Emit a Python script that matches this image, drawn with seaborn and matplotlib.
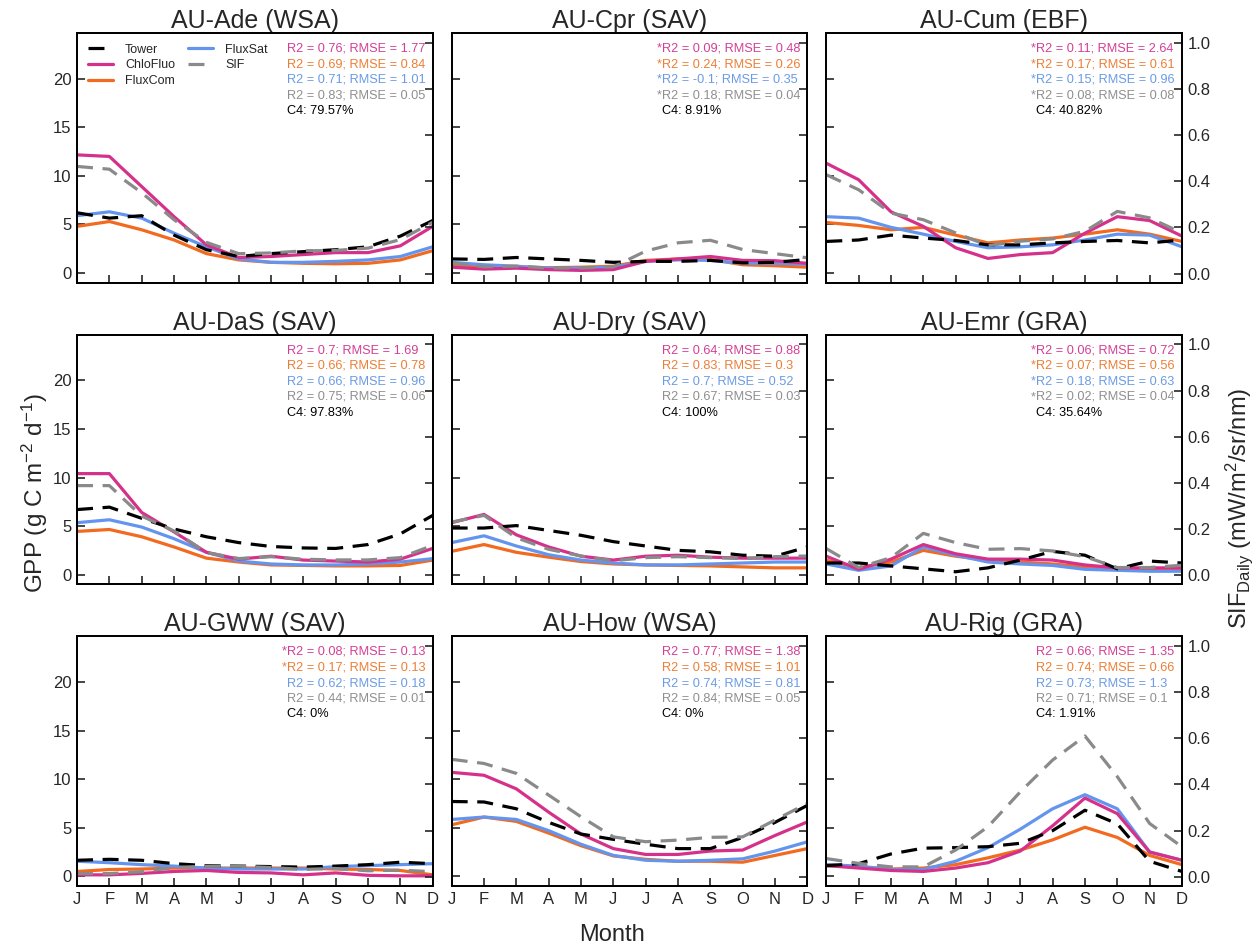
import numpy as np
import matplotlib
matplotlib.use("Agg")
import matplotlib.pyplot as plt
import seaborn as sns

sns.set_style("ticks")
plt.rcParams['font.family'] = ['Liberation Sans', 'DejaVu Sans']
plt.rcParams['mathtext.fontset'] = 'custom'
plt.rcParams['mathtext.rm'] = 'Liberation Sans'
plt.rcParams['mathtext.it'] = 'Liberation Sans'

# ---- data ----
MONTHS = ["J", "F", "M", "A", "M", "J", "J", "A", "S", "O", "N", "D"]
SITES = ["AU-Ade (WSA)", "AU-Cpr (SAV)", "AU-Cum (EBF)",
         "AU-DaS (SAV)", "AU-Dry (SAV)", "AU-Emr (GRA)",
         "AU-GWW (SAV)", "AU-How (WSA)", "AU-Rig (GRA)"]

TOWER = [
    [6.2, 5.65, 5.9, 3.9, 2.4, 1.7, 2.0, 2.2, 2.4, 2.7, 3.8, 5.4],
    [1.45, 1.4, 1.6, 1.45, 1.3, 1.1, 1.2, 1.2, 1.3, 1.05, 1.1, 1.4],
    [3.25, 3.4, 3.9, 3.6, 3.35, 2.9, 2.9, 3.1, 3.25, 3.35, 3.1, 3.4],
    [6.7, 6.95, 5.8, 4.7, 3.9, 3.3, 2.9, 2.75, 2.7, 3.1, 4.2, 6.1],
    [4.8, 4.8, 5.05, 4.55, 4.05, 3.4, 2.95, 2.5, 2.35, 2.0, 1.9, 2.85],
    [1.2, 1.2, 0.9, 0.6, 0.3, 0.7, 1.5, 2.4, 2.0, 0.6, 1.4, 1.2],
    [1.65, 1.75, 1.65, 1.3, 1.1, 1.05, 1.0, 0.95, 1.05, 1.2, 1.45, 1.3],
    [7.7, 7.65, 6.95, 5.55, 4.35, 3.8, 3.3, 2.85, 2.85, 4.0, 5.55, 7.3],
    [1.1, 1.3, 2.3, 2.9, 2.95, 3.05, 3.4, 4.7, 6.8, 5.4, 1.55, 0.5],
]
CHLOFLUO = [
    [12.16, 12.0, 8.9, 5.8, 2.9, 1.6, 1.7, 1.9, 2.1, 2.1, 2.8, 4.8],
    [0.6, 0.4, 0.5, 0.35, 0.27, 0.35, 1.2, 1.45, 1.7, 1.3, 1.27, 1.0],
    [11.3, 9.6, 6.3, 4.8, 2.6, 1.5, 1.9, 2.1, 4.1, 5.8, 5.4, 3.8],
    [10.4, 10.4, 6.4, 4.4, 2.3, 1.6, 1.9, 1.5, 1.4, 1.3, 1.6, 2.7],
    [5.35, 6.2, 4.1, 2.85, 1.9, 1.5, 1.9, 2.0, 1.8, 1.7, 1.7, 1.7],
    [1.9, 0.55, 1.6, 3.1, 2.15, 1.6, 1.6, 1.5, 1.0, 0.7, 0.7, 0.7],
    [0.15, 0.15, 0.3, 0.5, 0.6, 0.4, 0.35, 0.15, 0.35, 0.1, 0.05, 0.05],
    [10.7, 10.4, 9.0, 6.6, 4.35, 2.85, 2.25, 2.25, 2.6, 2.7, 4.2, 5.6],
    [1.1, 0.85, 0.6, 0.5, 0.85, 1.4, 2.6, 5.2, 8.05, 6.45, 2.5, 1.65],
]
FLUXCOM = [
    [4.8, 5.3, 4.45, 3.4, 2.0, 1.35, 1.1, 1.0, 0.95, 1.0, 1.35, 2.3],
    [0.85, 0.6, 0.6, 0.55, 0.6, 0.7, 1.3, 1.45, 1.4, 0.85, 0.75, 0.6],
    [5.2, 4.9, 4.45, 4.7, 3.9, 3.1, 3.4, 3.6, 4.0, 4.45, 4.0, 3.25],
    [4.45, 4.65, 3.9, 2.85, 1.7, 1.3, 1.0, 0.95, 0.9, 0.9, 0.95, 1.5],
    [2.4, 3.1, 2.3, 1.8, 1.35, 1.1, 1.0, 0.95, 0.9, 0.8, 0.7, 0.7],
    [1.5, 0.7, 1.3, 2.5, 1.9, 1.5, 1.3, 1.1, 0.8, 0.55, 0.55, 0.55],
    [0.5, 0.7, 0.75, 0.85, 0.85, 0.85, 0.85, 0.85, 0.75, 0.7, 0.6, 0.15],
    [5.3, 6.1, 5.65, 4.45, 3.15, 2.1, 1.75, 1.55, 1.55, 1.45, 2.15, 2.85],
    [1.1, 0.95, 0.75, 0.85, 1.2, 1.9, 2.7, 3.75, 5.05, 4.0, 2.15, 1.2],
]
FLUXSAT = [
    [5.9, 6.3, 5.65, 4.1, 2.7, 1.45, 1.1, 1.1, 1.2, 1.35, 1.7, 2.7],
    [1.1, 0.85, 0.7, 0.5, 0.5, 0.6, 1.2, 1.35, 1.3, 1.0, 1.0, 0.9],
    [5.8, 5.65, 4.7, 4.0, 3.25, 2.6, 2.7, 2.9, 3.4, 4.0, 3.9, 2.7],
    [5.35, 5.65, 4.9, 3.7, 2.3, 1.4, 1.1, 1.0, 1.0, 1.1, 1.3, 1.65],
    [3.3, 4.0, 2.95, 2.05, 1.5, 1.2, 1.0, 1.0, 1.1, 1.2, 1.3, 1.3],
    [1.1, 0.45, 0.9, 2.85, 2.0, 1.3, 1.1, 0.95, 0.55, 0.45, 0.35, 0.35],
    [1.55, 1.4, 1.2, 1.05, 0.85, 0.75, 0.75, 0.75, 1.0, 1.1, 1.2, 1.3],
    [5.85, 6.1, 5.85, 4.7, 3.3, 2.15, 1.65, 1.55, 1.65, 1.8, 2.6, 3.55],
    [1.2, 1.05, 0.7, 0.7, 1.55, 2.95, 4.85, 6.95, 8.4, 6.95, 2.5, 1.65],
]
SIF = [
    [0.464, 0.452, 0.35, 0.233, 0.135, 0.086, 0.089, 0.098, 0.10, 0.11, 0.147, 0.222],
    [0.046, 0.029, 0.032, 0.024, 0.024, 0.029, 0.097, 0.133, 0.144, 0.104, 0.086, 0.068],
    [0.428, 0.363, 0.262, 0.233, 0.176, 0.121, 0.14, 0.15, 0.183, 0.269, 0.241, 0.176],
    [0.388, 0.388, 0.256, 0.191, 0.098, 0.072, 0.08, 0.069, 0.066, 0.066, 0.076, 0.129],
    [0.23, 0.259, 0.162, 0.112, 0.083, 0.062, 0.076, 0.08, 0.076, 0.072, 0.08, 0.083],
    [0.115, 0.033, 0.076, 0.181, 0.141, 0.112, 0.115, 0.105, 0.08, 0.033, 0.033, 0.043],
    [0.014, 0.014, 0.022, 0.04, 0.046, 0.046, 0.04, 0.032, 0.036, 0.026, 0.029, 0.022],
    [0.509, 0.491, 0.448, 0.354, 0.26, 0.173, 0.152, 0.159, 0.171, 0.173, 0.246, 0.318],
    [0.079, 0.058, 0.043, 0.043, 0.116, 0.217, 0.368, 0.506, 0.61, 0.434, 0.231, 0.13],
]

# stats rows: ChloFluo, FluxCom, FluxSat, SIF
R2 = [
    ["0.76", "0.69", "0.71", "0.83"],
    ["0.09", "0.24", "-0.1", "0.18"],
    ["0.11", "0.17", "0.15", "0.08"],
    ["0.7", "0.66", "0.66", "0.75"],
    ["0.64", "0.83", "0.7", "0.67"],
    ["0.06", "0.07", "0.18", "0.02"],
    ["0.08", "0.17", "0.62", "0.44"],
    ["0.77", "0.58", "0.74", "0.84"],
    ["0.66", "0.74", "0.73", "0.71"],
]
RMSE = [
    ["1.77", "0.84", "1.01", "0.05"],
    ["0.48", "0.26", "0.35", "0.04"],
    ["2.64", "0.61", "0.96", "0.08"],
    ["1.69", "0.78", "0.96", "0.06"],
    ["0.88", "0.3", "0.52", "0.03"],
    ["0.72", "0.56", "0.63", "0.04"],
    ["0.13", "0.13", "0.18", "0.01"],
    ["1.38", "1.01", "0.81", "0.05"],
    ["1.35", "0.66", "1.3", "0.1"],
]
NOT_SIG = [
    [0, 0, 0, 0], [1, 1, 1, 1], [1, 1, 1, 1],
    [0, 0, 0, 0], [0, 0, 0, 0], [1, 1, 1, 1],
    [1, 1, 0, 0], [0, 0, 0, 0], [0, 0, 0, 0],
]
C4 = ["79.57%", "8.91%", "40.82%", "97.83%", "100%", "35.64%", "0%", "0%", "1.91%"]

# colours
C_TOWER = "black"
C_CHLO = "#d6318a"
C_FCOM = "#f26a1f"
C_FSAT = "#6395ee"
C_SIF = "#8a8a8a"
TXT_COLS = ["#d43f94", "#ec7f35", "#6b9be6", "#8f8f8f"]

DASH = (0, (5, 3))
LW = 2.3

fig, axes = plt.subplots(3, 3, figsize=(12.57, 9.52), dpi=100)
fig.subplots_adjust(left=0.0613, right=0.9403, bottom=0.0693, top=0.9653,
                    wspace=0.0534, hspace=0.208)

x = np.arange(12)
handles = {}

for i, ax in enumerate(axes.flat):
    row, col = divmod(i, 3)
    ax2 = ax.twinx()

    sns.lineplot(x=x, y=FLUXCOM[i], ax=ax, color=C_FCOM, lw=LW)
    handles["FluxCom"] = ax.lines[-1]
    sns.lineplot(x=x, y=FLUXSAT[i], ax=ax, color=C_FSAT, lw=LW)
    handles["FluxSat"] = ax.lines[-1]
    sns.lineplot(x=x, y=CHLOFLUO[i], ax=ax, color=C_CHLO, lw=LW)
    handles["ChloFluo"] = ax.lines[-1]
    sns.lineplot(x=x, y=TOWER[i], ax=ax, color=C_TOWER, lw=LW, linestyle=DASH)
    handles["Tower"] = ax.lines[-1]
    sns.lineplot(x=x, y=SIF[i], ax=ax2, color=C_SIF, lw=LW, linestyle=DASH)
    handles["SIF"] = ax2.lines[-1]

    ax.set_xlim(0, 11)
    ax.set_ylim(-1, 24.7)
    ax2.set_ylim(-0.04, 1.042)
    ax.set_xticks(x)
    ax.set_yticks([0, 5, 10, 15, 20])
    ax2.set_yticks([0, 0.2, 0.4, 0.6, 0.8, 1.0])
    ax2.set_yticklabels(["0.0", "0.2", "0.4", "0.6", "0.8", "1.0"])

    ax.tick_params(direction="in", length=6, width=1.2, labelsize=12, pad=4)
    ax2.tick_params(direction="in", length=6, width=1.2, labelsize=12, pad=4)

    if row == 2:
        ax.set_xticklabels(MONTHS)
    else:
        ax.set_xticklabels([])
    if col != 0:
        ax.set_yticklabels([])
    if col != 2:
        ax2.set_yticklabels([])

    for a in (ax, ax2):
        a.set_xlabel("")
        a.set_ylabel("")
        for s in a.spines.values():
            s.set_linewidth(1.3)
            s.set_color("black")

    ax.set_title(SITES[i], fontsize=18, pad=3)

    # stats text
    x0, y0, dy = 0.59, 0.938, 0.0625
    for k in range(4):
        yy = y0 - k * dy
        if NOT_SIG[i][k]:
            ax2.text(x0, yy, "*", transform=ax.transAxes, ha="right", va="center",
                     fontsize=9.2, color=TXT_COLS[k])
        ax2.text(x0, yy, f"R2 = {R2[i][k]}; RMSE = {RMSE[i][k]}",
                 transform=ax.transAxes, ha="left", va="center",
                 fontsize=9.2, color=TXT_COLS[k])
    ax2.text(x0, y0 - 4 * dy, f"C4: {C4[i]}", transform=ax.transAxes,
             ha="left", va="center", fontsize=9.2, color="black")

    if i == 0:
        order = ["Tower", "ChloFluo", "FluxCom", "FluxSat", "SIF"]
        ax2.legend([handles[n] for n in order], order, ncol=2, loc="upper left",
                   bbox_to_anchor=(0.0, 1.0), frameon=False, fontsize=9,
                   handlelength=2.0, handletextpad=1.0, columnspacing=1.0,
                   labelspacing=0.3, borderaxespad=0.45)

fig.text(0.028, 0.482, r"GPP (g C m$^{-2}$ d$^{-1}$)", rotation=90,
         ha="center", va="center", fontsize=17.5)
fig.text(0.986, 0.466, r"SIF$_{\mathrm{Daily}}$ (mW/m$^{2}$/sr/nm)", rotation=90,
         ha="center", va="center", fontsize=17)
fig.text(0.487, 0.018, "Month", ha="center", va="center", fontsize=17)

fig.savefig("out.png", dpi=100)
